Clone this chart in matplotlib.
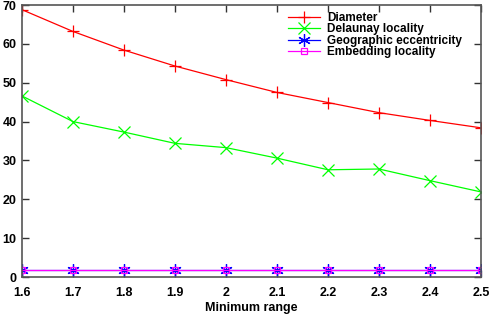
import matplotlib
matplotlib.use("Agg")
import matplotlib.pyplot as plt

min_range = [1.6, 1.7, 1.8, 1.9, 2.0, 2.1, 2.2, 2.3, 2.4, 2.5]
diameter = [68.8, 63.2, 58.4, 54.3, 50.8, 47.5, 44.9, 42.3, 40.3, 38.4]
delaunay_locality = [46.6, 40.0, 37.3, 34.4, 33.3, 30.6, 27.6, 27.8, 24.8, 21.9]
geographic_eccentricity = [1.9, 1.9, 1.9, 1.9, 1.9, 1.9, 1.9, 1.9, 1.9, 1.9]
embedding_locality = [1.9, 1.9, 1.9, 1.9, 1.9, 1.9, 1.9, 1.9, 1.9, 1.9]

x_ticks = [1.6, 1.7, 1.8, 1.9, 2.0, 2.1, 2.2, 2.3, 2.4, 2.5]
x_tick_labels = ["1.6", "1.7", "1.8", "1.9", "2", "2.1", "2.2", "2.3", "2.4", "2.5"]
y_ticks = [0, 10, 20, 30, 40, 50, 60, 70]

plt.rcParams["font.family"] = ["Liberation Sans", "DejaVu Sans"]

fig = plt.figure(figsize=(4.91, 3.15), dpi=100)
ax = fig.add_axes([0.0448, 0.1206, 0.9348, 0.8634])

lw = 0.9
ax.plot(min_range, diameter, color="#ff0000", lw=lw, marker="+", ms=9, mew=0.9, label="Diameter")
ax.plot(min_range, delaunay_locality, color="#00ff00", lw=lw, marker="x", ms=8, mew=0.9, label="Delaunay locality")
ax.plot(min_range, geographic_eccentricity, color="#0000ff", lw=lw, marker=(6, 2, 0), ms=9, mew=0.9,
        label="Geographic eccentricity")
ax.plot(min_range, embedding_locality, color="#ff00ff", lw=lw, marker="s", ms=5, mew=0.9, mfc="none",
        label="Embedding locality")

ax.set_xlim(1.6, 2.5)
ax.set_ylim(0, 70)
ax.set_xticks(x_ticks)
ax.set_xticklabels(x_tick_labels)
ax.set_yticks(y_ticks)
ax.tick_params(direction="in", length=5, width=1, colors="#333333", top=True, right=True,
               labelsize=9, labelcolor="black")
ax.tick_params(axis="x", pad=7)
ax.tick_params(axis="y", pad=4)
for lab in ax.get_xticklabels() + ax.get_yticklabels():
    lab.set_fontweight("bold")
for s in ax.spines.values():
    s.set_color("#555555")
    s.set_linewidth(1.2)

ax.set_xlabel("Minimum range", fontsize=9, fontweight="bold", labelpad=2)

leg = fig.legend(loc="upper left", bbox_to_anchor=(288 / 491, 1 - 12 / 315), frameon=False,
                 handlelength=2.7, handletextpad=0.6, labelspacing=-0.05, borderpad=0,
                 borderaxespad=0, prop={"size": 8.5, "weight": "bold"})

fig.savefig("out.png", dpi=100)
